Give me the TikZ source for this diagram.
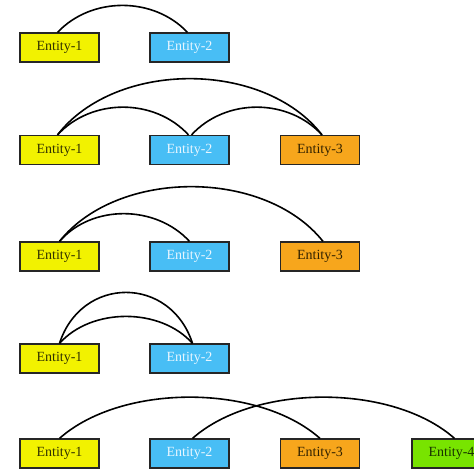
\documentclass[tikz,border=0pt]{standalone}
\usepackage{fontspec}
\setmainfont{Liberation Serif}
\definecolor{eyel}{RGB}{242,242,0}
\definecolor{eblu}{RGB}{72,190,245}
\definecolor{eora}{RGB}{247,166,28}
\definecolor{egrn}{RGB}{120,228,0}
\definecolor{tyel}{RGB}{50,50,0}
\definecolor{tblu}{RGB}{232,246,255}
\definecolor{tora}{RGB}{50,34,0}
\definecolor{tgrn}{RGB}{24,50,0}
\begin{document}
\begin{tikzpicture}[x=1pt,y=-1pt,
  ent/.style={draw=black!85,line width=1.2pt,minimum width=79pt,minimum height=29pt,inner sep=0pt,font=\fontsize{14}{16}\selectfont},
  e1/.style={ent,fill=eyel,text=tyel},
  e2/.style={ent,fill=eblu,text=tblu},
  e3/.style={ent,fill=eora,text=tora},
  e4/.style={ent,fill=egrn,text=tgrn},
  arcline/.style={draw=black,line width=1.6pt}]
\useasboundingbox (0,0) rectangle (474,474);
\clip (0,0) rectangle (474,474);
% row 1
\node[e1] (a1) at (59.5,47.5) {Entity-1};
\node[e2] (a2) at (189.5,47.5) {Entity-2};
\draw[arcline] ([xshift=-2pt]a1.north) .. controls +(34,-36) and +(-34,-36) .. ([xshift=-2pt]a2.north);
% row 2
\node[e1] (b1) at (59.5,150) {Entity-1};
\node[e2] (b2) at (189.5,150) {Entity-2};
\node[e3] (b3) at (320,150) {Entity-3};
\draw[arcline] ([xshift=-2pt]b1.north) .. controls +(34,-37) and +(-34,-37) .. ([xshift=-1pt]b2.north);
\draw[arcline] ([xshift=2pt]b2.north) .. controls +(34,-37) and +(-34,-37) .. ([xshift=2pt]b3.north);
\draw[arcline] ([xshift=-2pt]b1.north) .. controls +(58,-75) and +(-58,-75) .. ([xshift=2pt]b3.north);
% row 3
\node[e1] (c1) at (59.5,256.5) {Entity-1};
\node[e2] (c2) at (189.5,256.5) {Entity-2};
\node[e3] (c3) at (320,256.5) {Entity-3};
\draw[arcline] (c1.north) .. controls +(32,-37) and +(-34,-37) .. (c2.north);
\draw[arcline] (c1.north) .. controls +(58,-73) and +(-58,-73) .. ([xshift=3pt]c3.north);
% row 4
\node[e1] (d1) at (59.5,358.5) {Entity-1};
\node[e2] (d2) at (189.5,358.5) {Entity-2};
\draw[arcline] (d1.north) .. controls +(32,-36) and +(-32,-36) .. ([xshift=3pt]d2.north);
\draw[arcline] (d1.north) .. controls +(22,-68) and +(-22,-68) .. ([xshift=3pt]d2.north);
% row 5
\node[e1] (f1) at (59.5,453.5) {Entity-1};
\node[e2] (f2) at (189.5,453.5) {Entity-2};
\node[e3] (f3) at (320,453.5) {Entity-3};
\node[e4] (f4) at (451.5,453.5) {Entity-4};
\draw[arcline] (f1.north) .. controls +(62,-55) and +(-62,-55) .. (f3.north);
\draw[arcline] ([xshift=3pt]f2.north) .. controls +(62,-55) and +(-62,-55) .. ([xshift=3pt]f4.north);
\end{tikzpicture}
\end{document}
